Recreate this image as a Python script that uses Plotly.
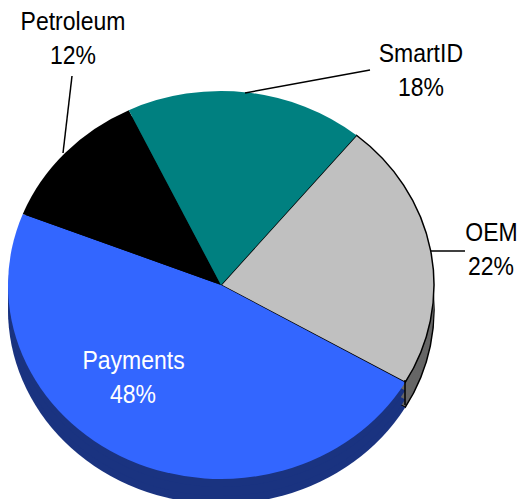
import plotly.graph_objects as go

categories = ["OEM", "Payments", "Petroleum", "SmartID"]
values = [22.4, 47.6, 11.9, 18.1]
top_colors = ["#C0C0C0", "#3366FF", "#000000", "#008080"]
side_colors = ["#666666", "#1A3380", "#000000", "#004040"]
label_xy = [(491, 232), (133, 360), (73, 21), (421, 53)]
label_colors = ["#000000", "#FFFFFF", "#000000", "#000000"]
leaders = [(431, 251, 465, 251), (72, 76, 63, 153), (245, 93, 370, 70), (405, 380, 405, 405)]

W, H = 518, 499
CX, CY, R = 221, 285, 213
SQUASH = 194 / 213
DEPTHS = [25, 17, 8]
ROTATION = 39.5

dom = dict(x=[(CX - R) / W, (CX + R) / W], y=[(H - CY - R) / H, (H - CY + R) / H])
fig = go.Figure()

for i, d in enumerate(DEPTHS):
    w = [1.5, 0, 0, 0] if i == 0 else [0, 0, 0, 0]
    fig.add_trace(go.Pie(labels=categories, values=values, sort=False, direction="clockwise",
                         rotation=ROTATION, domain=dom, textinfo="none", hoverinfo="skip",
                         marker=dict(colors=side_colors, line=dict(color="#000000", width=w))))
fig.add_trace(go.Pie(labels=categories, values=values, sort=False, direction="clockwise",
                     rotation=ROTATION, domain=dom, textinfo="none",
                     marker=dict(colors=top_colors, line=dict(color="#000000", width=[1.5, 0, 0, 0]))))

FONT = "Liberation Sans Narrow, Liberation Sans, sans-serif"
ann = []
for name, v, (x, y), c in zip(categories, values, label_xy, label_colors):
    for txt, yy in ((name, y), (f"{v:.0f}%", y + 34)):
        ann.append(dict(text=txt, x=x / W, y=1 - yy / H, xref="paper", yref="paper",
                        xanchor="center", yanchor="middle", showarrow=False,
                        font=dict(family=FONT, size=25, color=c)))
shapes = [dict(type="line", xref="paper", yref="paper", x0=a / W, y0=1 - b / H, x1=c / W, y1=1 - d / H,
               line=dict(color="#000000", width=1.5)) for a, b, c, d in leaders]

fig.update_layout(width=W, height=H, margin=dict(l=0, r=0, t=0, b=0), showlegend=False,
                  paper_bgcolor="#FFFFFF", annotations=ann, shapes=shapes)

post = f"""
document.body.style.margin = '0';
var traces = document.querySelectorAll('.pielayer .trace');
var depths = {DEPTHS + [0]};
traces.forEach(function(t, i) {{
  t.setAttribute('transform', 'translate(0,' + ({CY} + depths[i]) + ') scale(1,{SQUASH}) translate(0,' + (-{CY}) + ')');
}});
document.querySelectorAll('.annotation-text').forEach(function(t) {{
  var b = t.getBBox(), cx = b.x + b.width / 2;
  t.setAttribute('transform', 'translate(' + cx + ',0) scale(0.92,1) translate(' + (-cx) + ',0)');
}});
"""
fig.write_html("out.html", post_script=post, config={"displayModeBar": False})
